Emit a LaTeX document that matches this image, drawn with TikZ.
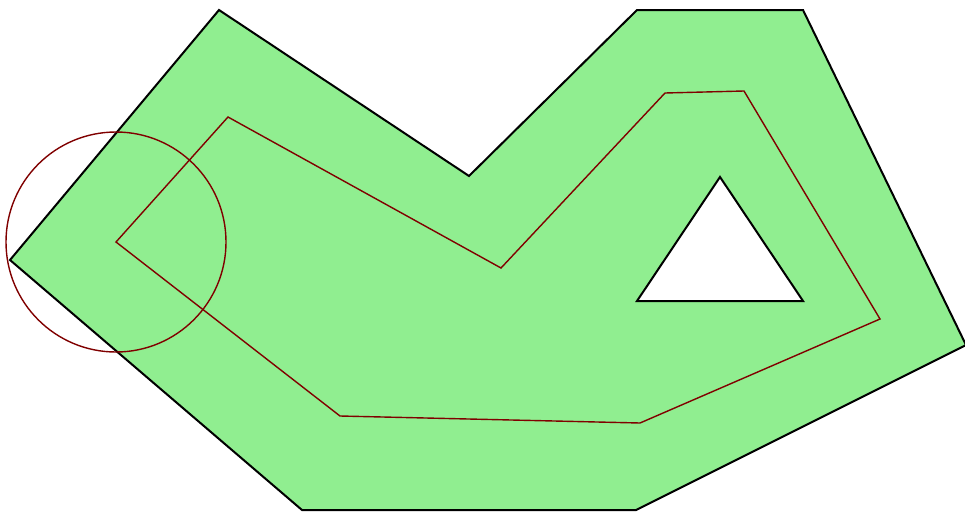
\documentclass[tikz,border=0pt]{standalone}
\definecolor{fillgreen}{HTML}{90EE90}
\definecolor{darkred}{HTML}{800000}
\begin{document}
\begin{tikzpicture}[x=1pt,y=-1pt,
  region/.style={fill=fillgreen,draw=black,line width=2pt,line join=miter,even odd rule},
  redline/.style={draw=darkred,line width=1.4pt}]
\useasboundingbox (0,0) rectangle (965,514);
\path[region] (219,10) -- (469,176) -- (637,10) -- (803,10) -- (966,345) -- (636,510) -- (302,510) -- (10,260) -- cycle
  (720,177) -- (803,301) -- (637,301) -- cycle;
\draw[redline] (116,242) -- (228,117) -- (501,268) -- (665,93) -- (744,91) -- (880,319) -- (640,423) -- (340,416) -- cycle;
\coordinate (c) at (116,242);
\draw[redline] (c) circle[radius=110];
\end{tikzpicture}
\end{document}
